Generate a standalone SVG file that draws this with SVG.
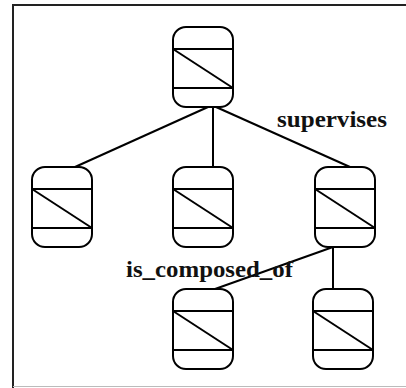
<svg xmlns="http://www.w3.org/2000/svg" width="406" height="388" viewBox="0 0 406 388">
<defs>
<style>
.frame{fill:none;stroke:#222;stroke-width:2}
.nbox{fill:#fff;stroke:#000;stroke-width:2}
.nline{stroke:#000;stroke-width:2}
.edge{stroke:#000;stroke-width:2;fill:none}
.lbl{font-family:"Liberation Serif","Times New Roman",serif;font-weight:bold;font-size:24px;fill:#111}
</style>
<g id="shape">
<rect class="nbox" x="0" y="0" width="60" height="80" rx="13" ry="13"/>
<line class="nline" x1="0" y1="22" x2="60" y2="22"/>
<line class="nline" x1="0" y1="61" x2="60" y2="61"/>
<line class="nline" x1="0" y1="22" x2="60" y2="61"/>
</g>
</defs>
<rect width="406" height="388" fill="#fff"/>
<path class="frame" d="M13,388 V5 H406"/>
<line x1="13" y1="386.5" x2="406" y2="386.5" stroke="#bbb" stroke-width="1"/>
<g id="connectors">
<line class="edge" x1="208" y1="107" x2="75" y2="167"/>
<line class="edge" x1="213" y1="107" x2="213" y2="167"/>
<line class="edge" x1="216" y1="107" x2="350" y2="167"/>
<line class="edge" x1="333" y1="247" x2="215" y2="289"/>
<line class="edge" x1="333" y1="247" x2="333" y2="289"/>
</g>
<g id="n1" class="node"><use href="#shape" x="173" y="27"/></g>
<g id="n2" class="node"><use href="#shape" x="32" y="167"/></g>
<g id="n3" class="node"><use href="#shape" x="173" y="167"/></g>
<g id="n4" class="node"><use href="#shape" x="315" y="167"/></g>
<g id="n5" class="node"><use href="#shape" x="173" y="289"/></g>
<g id="n6" class="node"><use href="#shape" x="313" y="289"/></g>
<g id="labels">
<text class="lbl" x="277" y="127" textLength="110" lengthAdjust="spacingAndGlyphs">supervises</text>
<text class="lbl" x="126" y="277" textLength="167" lengthAdjust="spacingAndGlyphs">is_composed_of</text>
</g>
</svg>
